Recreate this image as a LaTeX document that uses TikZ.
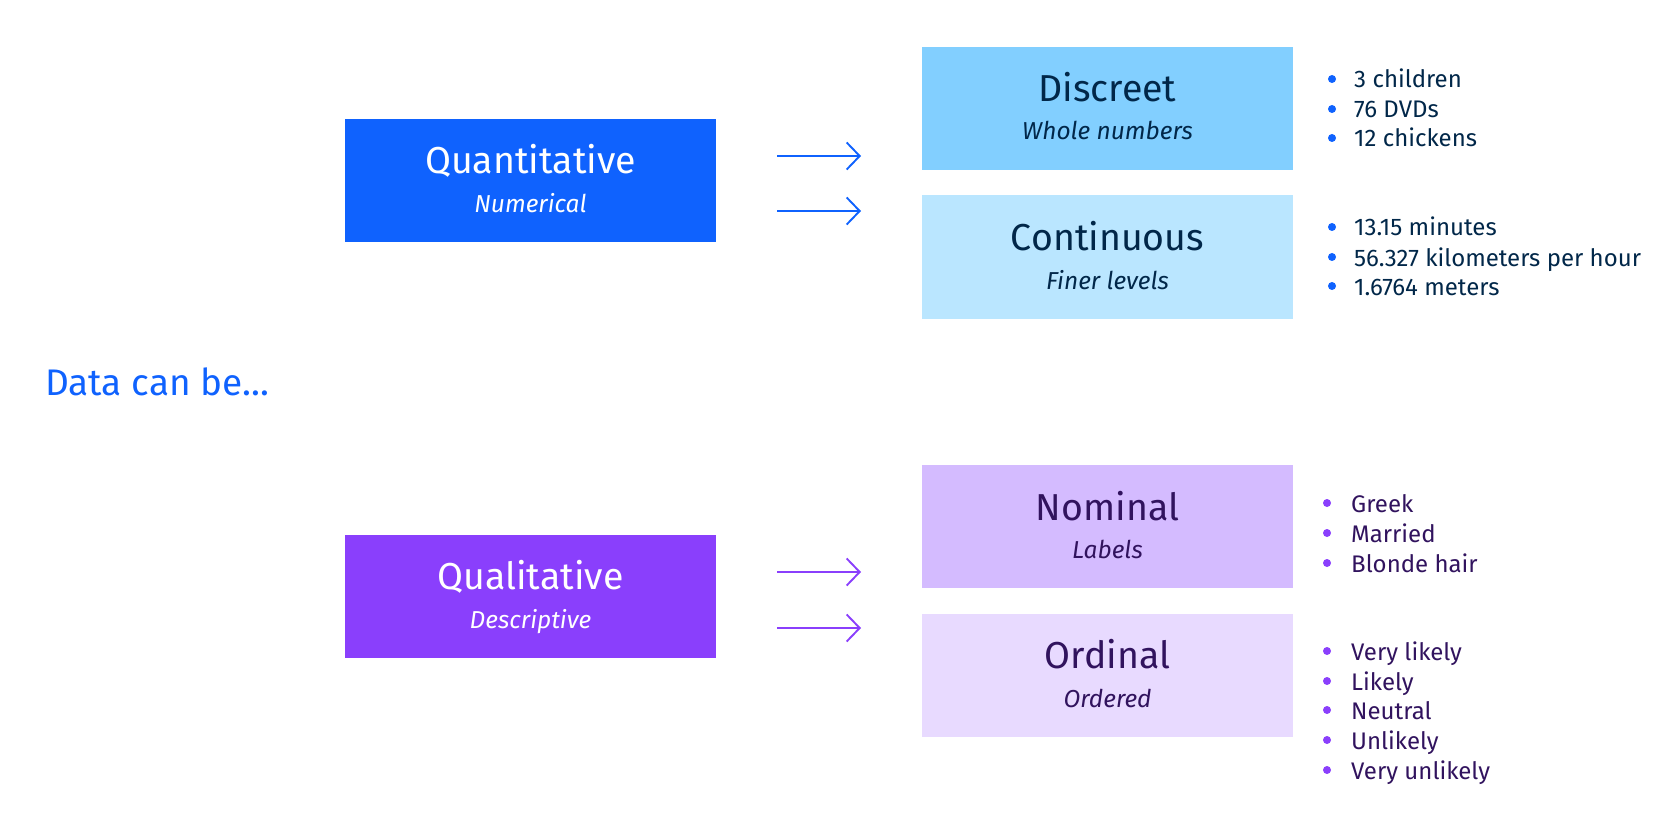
\documentclass[tikz,border=0pt]{standalone}
\usepackage{fontspec}
\setmainfont{Fira Sans}
\usetikzlibrary{arrows.meta}
\definecolor{blueA}{HTML}{0F62FE}
\definecolor{cyanB}{HTML}{82CFFF}
\definecolor{cyanC}{HTML}{BAE6FF}
\definecolor{navy}{HTML}{012749}
\definecolor{purpA}{HTML}{8A3FFC}
\definecolor{purpB}{HTML}{D4BBFF}
\definecolor{purpC}{HTML}{E8DAFF}
\definecolor{plum}{HTML}{31135E}
\tikzset{
  box/.style={rectangle, draw=none, inner sep=0pt, outer sep=0pt, minimum width=371pt, minimum height=123pt},
  title/.style={anchor=base, inner sep=0pt, font=\fontsize{37.5}{40}\selectfont},
  sub/.style={anchor=base, inner sep=0pt, font=\fontsize{24.5}{28}\selectfont\itshape},
  item/.style={anchor=base west, inner sep=0pt, font=\fontsize{24}{26}\selectfont},
  dot/.style={circle, inner sep=0pt, minimum size=8pt},
  arr/.style={line width=1.9pt, -{Straight Barb[length=13pt, width=27pt, line width=1.9pt]}}
}
\begin{document}
\begin{tikzpicture}[x=1pt,y=-1pt]
\useasboundingbox (0,0) rectangle (1680,834);
% title
\node[anchor=base west, inner sep=0pt, text=blueA, font=\fontsize{37}{40}\selectfont] (data) at (45,395) {Data can be...};
% quantitative
\node[box, fill=blueA] (quant) at (530.5,180.5) {};
\node[title, text=white] (quantT) at (530.5,174) {Quantitative};
\node[sub, text=white] (quantS) at (530.5,213) {Numerical};
\node[box, fill=cyanB] (disc) at (1107.5,108.5) {};
\node[title, text=navy] (discT) at (1107.5,102) {Discreet};
\node[sub, text=navy] (discS) at (1107.5,140) {Whole numbers};
\node[box, fill=cyanC] (cont) at (1107.5,257) {};
\node[title, text=navy] (contT) at (1107.5,251) {Continuous};
\node[sub, text=navy] (contS) at (1107.5,289) {Finer levels};
\coordinate (qa1) at (777,156); \coordinate (qb1) at (861,156);
\coordinate (qa2) at (777,211); \coordinate (qb2) at (861,211);
\draw[arr, blueA] (qa1) -- (qb1);
\draw[arr, blueA] (qa2) -- (qb2);
% qualitative
\node[box, fill=purpA] (qual) at (530.5,596) {};
\node[title, text=white] (qualT) at (530.5,589) {Qualitative};
\node[sub, text=white] (qualS) at (530.5,628) {Descriptive};
\node[box, fill=purpB] (nom) at (1107.5,526.5) {};
\node[title, text=plum] (nomT) at (1107.5,520) {Nominal};
\node[sub, text=plum] (nomS) at (1107.5,558) {Labels};
\node[box, fill=purpC] (ord) at (1107.5,675) {};
\node[title, text=plum] (ordT) at (1107.5,668) {Ordinal};
\node[sub, text=plum] (ordS) at (1107.5,707) {Ordered};
\coordinate (pa1) at (777,572); \coordinate (pb1) at (861,572);
\coordinate (pa2) at (777,628); \coordinate (pb2) at (861,628);
\draw[arr, purpA] (pa1) -- (pb1);
\draw[arr, purpA] (pa2) -- (pb2);
% bullets upper
\foreach \y/\t/\n in {88/3 children/a1, 118/76 DVDs/a2, 147/12 chickens/a3, 236/13.15 minutes/b1, 266/56.327 kilometers per hour/b2, 295/1.6764 meters/b3}{
  \node[dot, fill=blueA] (d\n) at (1332,\y-9) {};
  \node[item, text=navy] (t\n) at (1354,\y) {\t};
}
\foreach \y/\t/\n in {512/Greek/c1, 542/Married/c2, 572/Blonde hair/c3, 660/Very likely/e1, 690/Likely/e2, 719/Neutral/e3, 749/Unlikely/e4, 779/Very unlikely/e5}{
  \node[dot, fill=purpA] (d\n) at (1327,\y-9) {};
  \node[item, text=plum] (t\n) at (1351,\y) {\t};
}
\end{tikzpicture}
\end{document}
